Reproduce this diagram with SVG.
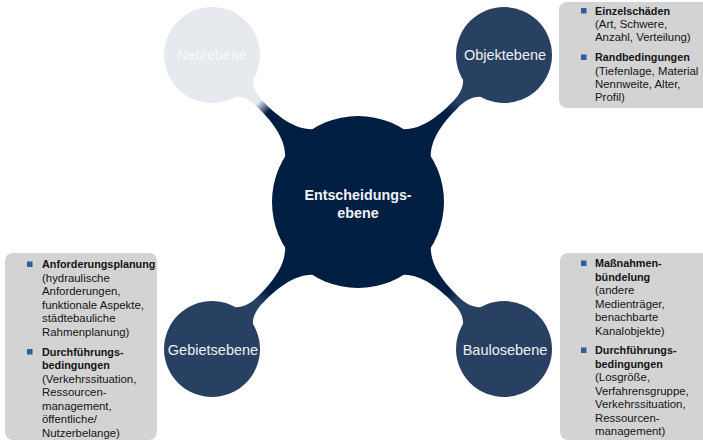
<svg xmlns="http://www.w3.org/2000/svg" width="703" height="442" viewBox="0 0 703 442">
<style>
.box{fill:#D3D3D3}
.bul{fill:#2E5E9C}
.t{font-family:"Liberation Sans",Arial,sans-serif;font-size:11.4px;fill:#141414}
.b{font-weight:bold;font-size:10.8px}
.nl{font-family:"Liberation Sans",Arial,sans-serif;font-size:14.5px;fill:#EEF0F3;text-anchor:middle}
.cl{font-family:"Liberation Sans",Arial,sans-serif;font-size:14.3px;font-weight:bold;fill:#F2F4F7;text-anchor:middle}
</style>
<defs>
<linearGradient id="gDark" gradientUnits="userSpaceOnUse" x1="127" y1="0" x2="141" y2="0">
<stop offset="0" stop-color="#001E42"/><stop offset="1" stop-color="#284162"/>
</linearGradient>
<linearGradient id="gGrey" gradientUnits="userSpaceOnUse" x1="127" y1="0" x2="141" y2="0">
<stop offset="0" stop-color="#001E42"/><stop offset="1" stop-color="#E6E9ED"/>
</linearGradient>
<path id="bar" d="M75 19.8 L83 19.8 C92 11 104 5 130 4 L137 4 C147 4 154.5 5.8 160.5 11.8 L167 11.8 L167 -11.8 L160.5 -11.8 C154.5 -5.8 147 -4 137 -4 L130 -4 C104 -5 92 -11 83 -19.8 L75 -19.8 Z"/>
</defs>
<g id="connectors">
<use href="#bar" fill="url(#gGrey)" transform="translate(358,202) rotate(-135)"/>
<use href="#bar" fill="url(#gDark)" transform="translate(358,202) rotate(-45)"/>
<use href="#bar" fill="url(#gDark)" transform="translate(358,202) rotate(135)"/>
<use href="#bar" fill="url(#gDark)" transform="translate(358,202) rotate(45)"/>
</g>
<g id="center">
<circle cx="358" cy="202" r="86" fill="#001E42"/>
<text class="cl" x="358" y="199.5">Entscheidungs-</text>
<text class="cl" x="358" y="217.5">ebene</text>
</g>
<g id="netzebene">
<circle cx="212" cy="55" r="48" fill="#E6E9ED"/>
<text class="nl" x="212" y="60" fill="#F7F8FA" style="fill:#F7F8FA">Netzebene</text>
</g>
<g id="objektebene">
<circle cx="504" cy="55" r="48" fill="#284162"/>
<text class="nl" x="505" y="60">Objektebene</text>
</g>
<g id="gebietsebene">
<circle cx="212" cy="349" r="48" fill="#284162"/>
<text class="nl" x="213" y="355">Gebietsebene</text>
</g>
<g id="baulosebene">
<circle cx="504" cy="349" r="48" fill="#284162"/>
<text class="nl" x="505" y="355">Baulosebene</text>
</g>
<g id="box-objekt">
<rect class="box" x="559" y="2" width="160" height="106" rx="8"/>
<rect class="bul" x="581" y="8" width="5.5" height="5.5"/>
<rect class="bul" x="581" y="54.5" width="5.5" height="5.5"/>
<text class="t"><tspan class="b" x="595" y="14.7">Einzelschäden</tspan><tspan x="595" y="28">(Art, Schwere,</tspan><tspan x="595" y="41.3">Anzahl, Verteilung)</tspan><tspan class="b" x="595" y="61.3">Randbedingungen</tspan><tspan x="595" y="74.7">(Tiefenlage, Material</tspan><tspan x="595" y="88">Nennweite, Alter,</tspan><tspan x="595" y="101.3">Profil)</tspan></text>
</g>
<g id="box-gebiet">
<rect class="box" x="5" y="253" width="152" height="187" rx="8"/>
<rect class="bul" x="27" y="261.5" width="5.5" height="5.5"/>
<rect class="bul" x="27" y="349" width="5.5" height="5.5"/>
<text class="t"><tspan class="b" x="42" y="268">Anforderungsplanung</tspan><tspan x="42" y="281.5">(hydraulische</tspan><tspan x="42" y="295">Anforderungen,</tspan><tspan x="42" y="308.5">funktionale Aspekte,</tspan><tspan x="42" y="322">städtebauliche</tspan><tspan x="42" y="335.5">Rahmenplanung)</tspan><tspan class="b" x="42" y="355.5">Durchführungs-</tspan><tspan class="b" x="42" y="369">bedingungen</tspan><tspan x="42" y="382.5">(Verkehrssituation,</tspan><tspan x="42" y="396">Ressourcen-</tspan><tspan x="42" y="409.5">management,</tspan><tspan x="42" y="423">öffentliche/</tspan><tspan x="42" y="436.5">Nutzerbelange)</tspan></text>
</g>
<g id="box-baulos">
<rect class="box" x="560" y="253" width="160" height="187" rx="8"/>
<rect class="bul" x="581" y="260.5" width="5.5" height="5.5"/>
<rect class="bul" x="581" y="347.5" width="5.5" height="5.5"/>
<text class="t"><tspan class="b" x="595" y="267">Maßnahmen-</tspan><tspan class="b" x="595" y="280.5">bündelung</tspan><tspan x="595" y="294">(andere</tspan><tspan x="595" y="307.5">Medienträger,</tspan><tspan x="595" y="321">benachbarte</tspan><tspan x="595" y="334.5">Kanalobjekte)</tspan><tspan class="b" x="595" y="354">Durchführungs-</tspan><tspan class="b" x="595" y="367.5">bedingungen</tspan><tspan x="595" y="381">(Losgröße,</tspan><tspan x="595" y="394.5">Verfahrensgruppe,</tspan><tspan x="595" y="408">Verkehrssituation,</tspan><tspan x="595" y="421.5">Ressourcen-</tspan><tspan x="595" y="435">management)</tspan></text>
</g>
</svg>
